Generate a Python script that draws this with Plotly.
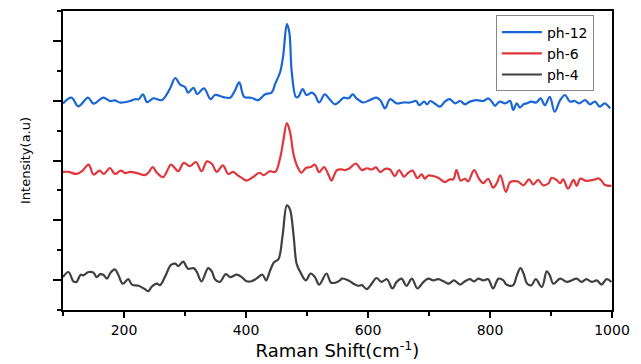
import plotly.graph_objects as go

# ph-12 (blue)
wn12 = [100,114,125,141,150,166,177,185,193,210,218,224,231,238,248,262,275,284,292,300,305,314,320,331,342,349,363,374,382,389,397,409,420,431,442,448,456,461,467,471,475,482,486,493,499,508,513,520,529,537,546,554,
        560,568,575,581,592,603,614,621,628,636,647,658,669,679,684,692,697,702,711,718,726,734,743,751,759,767,778,789,797,804,808,816,825,833,838,844,849,855,860,868,876,883,890,898,906,915,923,931,939,946,956,964,972,980,988,997]
int12 = [6.91,7.10,6.81,7.10,6.90,7.10,6.99,7.01,6.94,6.99,7.05,7.05,7.21,6.95,7.08,7.02,7.39,7.76,7.54,7.46,7.27,7.43,7.22,7.41,7.05,7.19,7.12,7.10,7.35,7.61,7.13,7.10,7.02,7.21,7.27,7.57,7.96,8.51,9.56,9.29,7.96,7.12,7.14,7.39,7.19,7.27,7.19,6.94,7.21,7.05,6.88,6.99,
         7.10,7.08,7.21,7.08,6.94,7.02,7.10,6.99,6.74,7.05,6.91,6.94,6.94,6.99,6.85,6.97,6.88,6.99,6.88,6.80,6.97,7.05,6.91,6.99,6.88,6.97,7.02,6.99,7.08,6.94,6.83,6.97,6.91,6.99,6.69,6.91,6.77,6.88,6.91,6.97,6.94,7.08,6.85,7.13,6.63,7.02,7.19,6.97,6.99,6.91,7.02,6.88,6.97,6.80,6.91,6.74]

# ph-6 (red)
wn6 = [100,109,122,131,142,150,160,167,177,185,195,202,210,221,234,240,247,254,264,277,284,289,298,308,318,327,336,344,352,362,371,379,385,393,401,411,422,429,439,448,456,461,467,472,478,484,491,498,506,513,520,528,535,540,
       549,557,562,570,580,590,598,606,613,620,628,636,644,651,659,666,673,681,688,693,699,707,715,726,734,740,745,752,759,764,774,782,789,797,805,811,817,826,833,841,846,855,864,871,879,887,896,901,909,915,920,928,937,942,948,958,969,978,983,988,999]
int6 = [4.62,4.62,4.55,4.64,4.86,4.53,4.66,4.55,4.75,4.55,4.66,4.58,4.62,4.58,4.51,4.59,4.78,4.59,4.44,4.86,4.73,4.64,4.92,4.81,4.95,4.64,4.97,4.89,4.62,4.84,4.55,4.62,4.53,4.42,4.33,4.44,4.59,4.51,4.64,4.62,5.09,5.64,6.25,5.97,5.20,4.81,4.59,4.75,4.78,4.86,4.61,4.78,4.53,4.33,
        4.68,4.70,4.68,4.74,4.90,4.68,4.74,4.70,4.77,4.61,4.72,4.70,4.48,4.68,4.46,4.59,4.66,4.41,4.54,4.39,4.50,4.48,4.42,4.28,4.37,4.37,4.68,4.33,4.39,4.30,4.68,4.39,4.24,4.39,4.09,4.24,4.50,3.95,4.28,4.31,4.30,4.17,4.37,4.20,4.35,4.17,4.24,4.42,4.35,4.24,4.37,4.06,4.35,4.15,4.39,4.32,4.35,4.40,4.32,4.19,4.15]

# ph-4 (dark grey)
wn4 = [100,109,117,122,129,133,142,150,155,161,166,172,178,185,191,198,207,213,224,234,240,245,254,259,267,277,284,289,297,305,314,319,327,338,344,349,357,367,374,385,393,401,409,417,427,433,439,446,453,460,467,472,478,483,489,498,506,513,520,532,539,546,554,
       557,568,576,584,590,598,606,614,622,631,640,647,655,663,672,681,691,699,707,715,724,732,741,751,759,767,774,781,789,797,805,814,822,827,838,844,850,855,861,868,875,885,893,898,904,915,926,934,942,950,958,967,975,983,991,999]
int4 = [1.10,1.27,0.96,0.94,1.18,1.16,1.27,1.25,1.10,1.20,1.18,1.05,1.25,1.36,1.16,0.88,1.03,0.85,0.81,0.70,0.63,0.77,0.88,0.83,1.10,1.51,1.55,1.47,1.62,1.38,1.40,1.29,0.96,1.40,1.29,1.03,0.94,1.20,1.10,1.18,1.10,0.96,0.96,1.05,1.18,0.99,1.29,1.60,1.69,2.49,3.50,3.37,2.49,1.55,1.27,0.99,1.22,1.10,0.85,1.22,0.92,0.91,0.99,
        1.05,0.99,0.88,0.81,0.83,0.70,0.88,1.07,0.94,1.03,0.72,0.94,1.05,0.81,1.05,0.72,0.94,1.05,0.99,1.03,0.96,0.88,0.99,0.85,0.96,1.03,0.96,1.05,0.99,1.03,0.72,1.05,0.99,0.85,0.83,1.16,1.40,1.22,0.88,0.83,1.03,0.77,1.29,1.16,0.88,1.05,0.94,0.99,1.05,0.94,1.03,0.94,0.99,0.85,1.03,0.94]

series = [("ph-12", wn12, int12, "#1a66d6"),
          ("ph-6", wn6, int6, "#e2363d"),
          ("ph-4", wn4, int4, "#404040")]

WIDE = "DejaVu Sans, Verdana, sans-serif"

fig = go.Figure()
for name, x, y, c in series:
    fig.add_trace(go.Scatter(x=x, y=y, mode="lines", name=name,
                             line=dict(color=c, width=2.2, shape="spline", smoothing=1.0)))

axis_common = dict(showline=True, linecolor="black", linewidth=2, mirror=True,
                   ticks="outside", tickcolor="black", tickwidth=1.5, showgrid=False,
                   zeroline=False)

fig.update_xaxes(range=[100, 1000], tick0=0, dtick=200, ticklen=6,
                 minor=dict(ticks="outside", dtick=100, tick0=0, ticklen=4, tickcolor="black", tickwidth=1.5),
                 title=dict(text="Raman Shift(cm<sup>-1</sup>)", font=dict(family=WIDE, size=18, color="black"), standoff=3),
                 tickfont=dict(family=WIDE, size=14, color="black"), **axis_common)
fig.update_yaxes(range=[0, 10], tick0=1, dtick=2, ticklen=8, showticklabels=False,
                 minor=dict(ticks="outside", dtick=1, tick0=0, ticklen=4, tickcolor="black", tickwidth=1.5),
                 title=dict(text="Intensity(a.u)", font=dict(family=WIDE, size=13, color="black"), standoff=19),
                 **axis_common)

fig.update_layout(
    width=641, height=364,
    margin=dict(l=63, r=29, t=9, b=54),
    paper_bgcolor="white", plot_bgcolor="white",
    font=dict(family=WIDE, color="black"),
    legend=dict(x=0.967, y=0.985, xanchor="right", yanchor="top",
                bgcolor="white", bordercolor="#888888", borderwidth=1,
                font=dict(family=WIDE, size=14, color="black"), tracegroupgap=0,
                itemwidth=40, entrywidth=90, entrywidthmode="pixels"),
    showlegend=True,
)

fig.write_html("out.html", config={"displayModeBar": False},
               post_script="document.body.style.margin='0px';")
